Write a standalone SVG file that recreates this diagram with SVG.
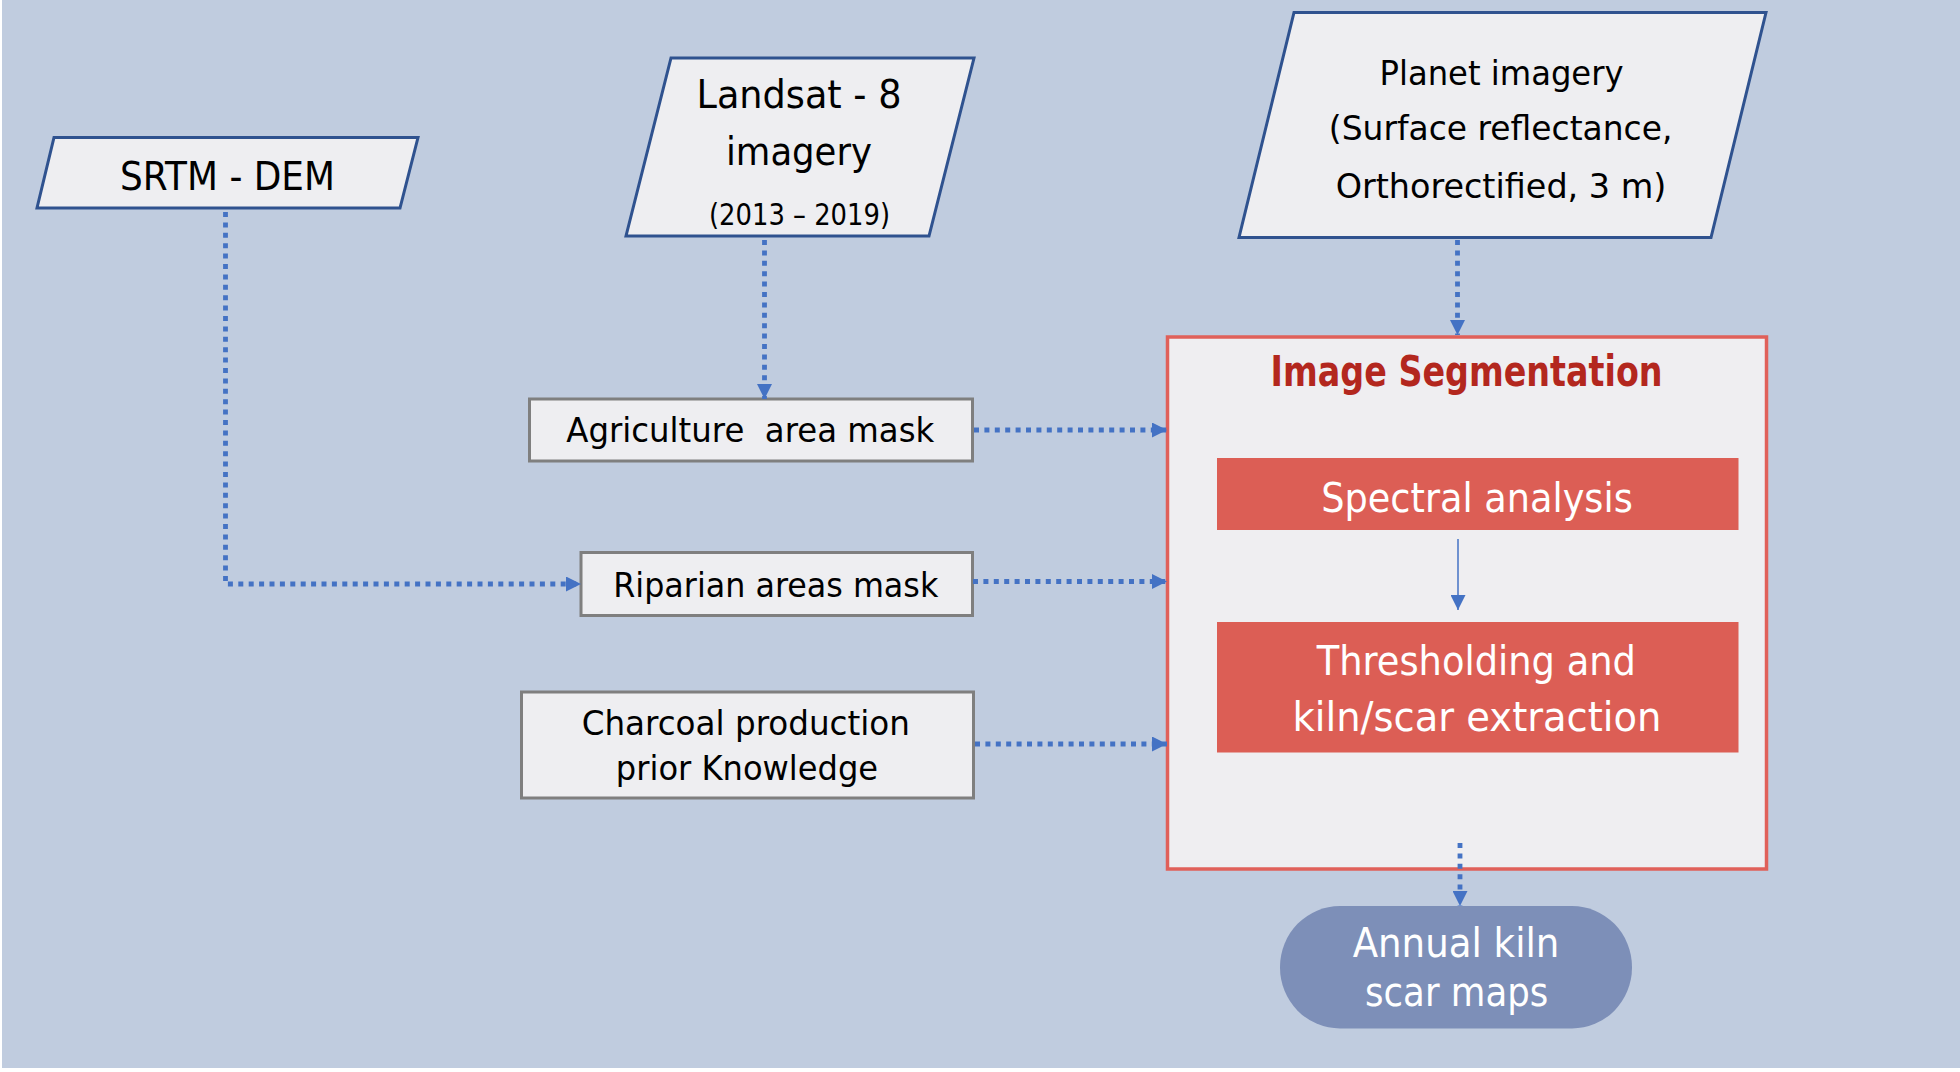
<svg xmlns="http://www.w3.org/2000/svg" width="1960" height="1072" viewBox="0 0 1960 1072">
  <style>
    .t { font-family: "DejaVu Sans", "Liberation Sans", sans-serif; text-anchor: middle; fill: #000000; }
    .w { fill: #FFFFFF; }
    .para { fill: #EEEEF1; stroke: #2F528F; stroke-width: 3; stroke-linejoin: miter; }
    .gbox { fill: #EEEEF1; stroke: #7F7F7F; stroke-width: 3; }
    .red { fill: #DC5E55; stroke: none; }
    .dot { fill: none; stroke: #4472C4; stroke-width: 4.8; stroke-dasharray: 5 5.4; }
    .thin { fill: none; stroke: #4472C4; stroke-width: 1.5; }
  </style>
  <defs>
    <marker id="ah" viewBox="0 0 15 15" refX="15" refY="7.5" markerWidth="15" markerHeight="15" markerUnits="userSpaceOnUse" orient="auto">
      <path d="M0,0 L15,7.5 L0,15 Z" fill="#4472C4"/>
    </marker>
  </defs>

  <rect x="0" y="0" width="1960" height="1072" fill="#FFFFFF"/>
  <rect x="2" y="0" width="1958" height="1068" fill="#C0CCDF"/>

  <g id="srtm">
    <polygon class="para" points="54,137.5 418,137.5 400,208 37,208"/>
    <text class="t" x="227.5" y="190" font-size="39" textLength="215" lengthAdjust="spacingAndGlyphs">SRTM - DEM</text>
  </g>

  <g id="landsat">
    <polygon class="para" points="671,58 974,58 929,236 626,236"/>
    <text class="t" x="799" y="108" font-size="39" textLength="205" lengthAdjust="spacingAndGlyphs">Landsat - 8</text>
    <text class="t" x="799" y="165" font-size="39" textLength="146" lengthAdjust="spacingAndGlyphs">imagery</text>
    <text class="t" x="799.5" y="225" font-size="30" textLength="181" lengthAdjust="spacingAndGlyphs">(2013 – 2019)</text>
  </g>

  <g id="planet">
    <polygon class="para" points="1294,12.5 1766,12.5 1711,237.5 1239,237.5"/>
    <text class="t" x="1501.5" y="85" font-size="34" textLength="244" lengthAdjust="spacingAndGlyphs">Planet imagery</text>
    <text class="t" x="1500.6" y="140" font-size="34" textLength="343.6" lengthAdjust="spacingAndGlyphs">(Surface reflectance,</text>
    <text class="t" x="1501" y="198" font-size="34" textLength="330.7" lengthAdjust="spacingAndGlyphs">Orthorectified, 3 m)</text>
  </g>

  <g id="agriculture">
    <rect class="gbox" x="529.5" y="399" width="443" height="62"/>
    <text class="t" x="750.3" y="441.7" font-size="34" textLength="368" lengthAdjust="spacingAndGlyphs" xml:space="preserve" style="white-space:pre">Agriculture  area mask</text>
  </g>

  <g id="riparian">
    <rect class="gbox" x="581" y="552.5" width="391.5" height="63"/>
    <text class="t" x="775.8" y="596.7" font-size="34" textLength="325" lengthAdjust="spacingAndGlyphs">Riparian areas mask</text>
  </g>

  <g id="charcoal">
    <rect class="gbox" x="521.5" y="692" width="452" height="106"/>
    <text class="t" x="745.8" y="735" font-size="34" textLength="328.3" lengthAdjust="spacingAndGlyphs">Charcoal production</text>
    <text class="t" x="747" y="780" font-size="34" textLength="262.3" lengthAdjust="spacingAndGlyphs">prior Knowledge</text>
  </g>

  <g id="image-segmentation">
    <rect x="1167.5" y="337" width="599" height="532" fill="#EFEEF1" stroke="#E0605A" stroke-width="3.5"/>
    <text class="t" x="1466.6" y="385.7" font-size="42" font-weight="bold" style="fill:#B3271E" textLength="392" lengthAdjust="spacingAndGlyphs">Image Segmentation</text>
  </g>

  <g id="spectral-analysis">
    <rect class="red" x="1217" y="458" width="521.5" height="72"/>
    <text class="t w" x="1477" y="511.7" font-size="41" textLength="311.5" lengthAdjust="spacingAndGlyphs">Spectral analysis</text>
  </g>

  <g id="thresholding">
    <rect class="red" x="1217" y="622" width="521.5" height="130.5"/>
    <text class="t w" x="1476.3" y="675" font-size="41" textLength="319.3" lengthAdjust="spacingAndGlyphs">Thresholding and</text>
    <text class="t w" x="1477" y="730.7" font-size="41" textLength="369" lengthAdjust="spacingAndGlyphs">kiln/scar extraction</text>
  </g>

  <g id="annual-maps">
    <rect x="1280" y="906" width="352" height="122.5" rx="60" ry="61" fill="#7D8FB8"/>
    <text class="t w" x="1456" y="956.7" font-size="41" textLength="206.7" lengthAdjust="spacingAndGlyphs">Annual kiln</text>
    <text class="t w" x="1456.7" y="1006" font-size="41" textLength="183.3" lengthAdjust="spacingAndGlyphs">scar maps</text>
  </g>

  <g id="connectors">
    <path class="dot" d="M225.5,212 V584 H581" marker-end="url(#ah)"/>
    <path class="dot" d="M764.5,240 V399" marker-end="url(#ah)"/>
    <path class="dot" d="M974,430 H1167" marker-end="url(#ah)"/>
    <path class="dot" d="M973,581.5 H1167" marker-end="url(#ah)"/>
    <path class="dot" d="M975,744 H1167" marker-end="url(#ah)"/>
    <path class="dot" d="M1457.5,240 V335" marker-end="url(#ah)"/>
    <path class="thin" d="M1458,539 V610" marker-end="url(#ah)"/>
    <path class="dot" d="M1460,843 V906" marker-end="url(#ah)"/>
  </g>
</svg>
